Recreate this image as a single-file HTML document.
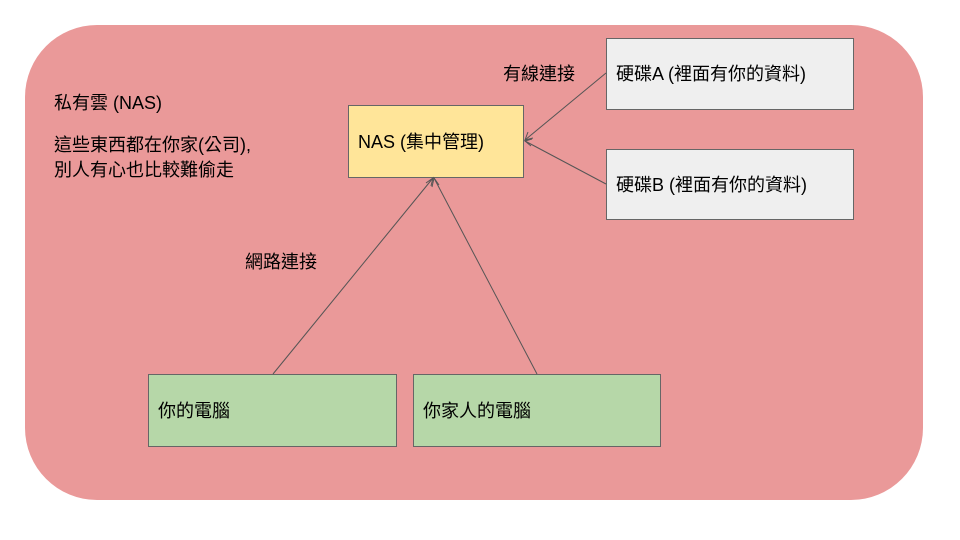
<!DOCTYPE html>
<html><head><meta charset="utf-8"><style>
html,body{margin:0;padding:0;background:#fff;}
svg{display:block}
text{font-family:"Liberation Sans","Noto Sans CJK TC",sans-serif;font-size:18px;fill:#000}
</style></head><body>
<svg width="960" height="540" viewBox="0 0 960 540" xmlns="http://www.w3.org/2000/svg">
<rect x="25" y="25" width="898" height="475" rx="72" ry="72" fill="#ea9999"/>
<rect x="348.5" y="105.5" width="175" height="72" fill="#ffe599" stroke="#666" stroke-width="1"/>
<rect x="606.5" y="38.5" width="247" height="71" fill="#efefef" stroke="#666" stroke-width="1"/>
<rect x="606.5" y="149.5" width="247" height="70" fill="#efefef" stroke="#666" stroke-width="1"/>
<rect x="148.5" y="374.5" width="248" height="72" fill="#b6d7a8" stroke="#666" stroke-width="1"/>
<rect x="413.5" y="374.5" width="247" height="72" fill="#b6d7a8" stroke="#666" stroke-width="1"/>
<g stroke="#555" stroke-width="1" fill="none">
<line x1="606" y1="73" x2="525" y2="140"/>
<line x1="606" y1="184" x2="525" y2="141"/>
<line x1="273" y1="374" x2="433" y2="178"/>
<line x1="537" y1="374" x2="434" y2="178"/>
<polyline points="528,132 525,140 533,138"/>
<polyline points="532,139 525,141 531,146"/>
<polyline points="426,183 433,178 431,186"/>
<polyline points="432,187 434,178 439,185"/>
</g>
<text x="54" y="109">私有雲 (NAS)</text>
<text x="54" y="151">這些東西都在你家(公司),</text>
<text x="54" y="176">別人有心也比較難偷走</text>
<text x="503" y="80">有線連接</text>
<text x="245" y="268">網路連接</text>
<text x="358" y="148">NAS (集中管理)</text>
<text x="616" y="80">硬碟A (裡面有你的資料)</text>
<text x="616" y="191">硬碟B (裡面有你的資料)</text>
<text x="158" y="417">你的電腦</text>
<text x="423" y="417">你家人的電腦</text>
</svg>
</body></html>
